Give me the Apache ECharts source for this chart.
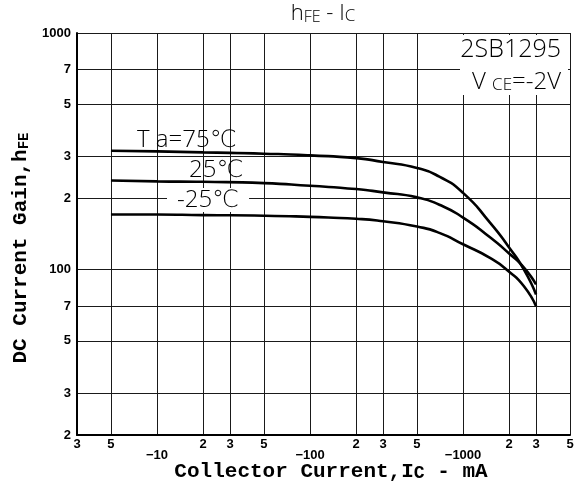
<!DOCTYPE html>
<html><head><meta charset="utf-8">
<script src="https://cdn.jsdelivr.net/npm/echarts@6/dist/echarts.min.js"></script>
<style>html,body{margin:0;padding:0;background:#fff}#c{width:586px;height:494px}</style>
</head><body><div id="c"></div>
<script>
const xTicks = [3,5,10,20,30,50,100,200,300,500,1000,2000,3000,5000];
const xTickLabels = ['3','5','\u221210','2','3','5','\u2212100','2','3','5','\u22121000','2','3','5'];
const xDecadeTicks = [10,100,1000];
const yTicks = [20,30,50,70,100,200,300,500,700,1000];
const yTickLabels = ['2','3','5','7','100','2','3','5','7','1000'];
const current = [5,10,20,50,100,200,300,500,700,1000,1500,2000,2500,3000];
const hfe75 = [318,316,313,309,304,296,285,269,247,211,158,124,100,78.5];
const hfe25 = [238,236,235,232,226,219,212,202,188,166,137,117,102,86.5];
const hfeM25 = [171,171,170,169,167,164,160,152,143,128,112,98,85,70];
const seriesNames = ['Ta=75\u2103','25\u2103','-25\u2103'];

function nearestIdx(ticks, v){
  let best=0, bd=Infinity;
  ticks.forEach((t,i)=>{const d=Math.abs(Math.log(t)-Math.log(v)); if(d<bd){bd=d;best=i;}});
  return best;
}
const mono = "'Liberation Mono', 'DejaVu Sans Mono', monospace";
const thin = "'Open Sans', 'DejaVu Sans', sans-serif";
const chart = echarts.init(document.getElementById('c'), null, {renderer:'canvas'});
const series = [hfe75, hfe25, hfeM25].map((arr, k) => ({
  name: seriesNames[k], type:'line', smooth:0.6, symbol:'none', z:5,
  lineStyle:{color:'#000', width:2.6},
  data: current.map((c,i)=>[c, arr[i]])
}));
chart.setOption({
  animation:false,
  backgroundColor:'#fff',
  grid:{left:77, right:16, top:33, bottom:59},
  xAxis:{
    type:'log', logBase:10, min:3, max:5000,
    axisLine:{show:true, lineStyle:{color:'#000', width:2}},
    axisTick:{show:false, customValues:xTicks},
    splitLine:{show:true, lineStyle:{color:'#1a1a1a', width:1}},
    minorSplitLine:{show:false},
    axisLabel:{
      customValues:xTicks, margin:3, color:'#000',
      fontFamily:"'Liberation Sans', sans-serif", fontWeight:'bold', fontSize:13,
      formatter:(v)=>{
        const i = nearestIdx(xTicks, v);
        const isDec = xDecadeTicks.indexOf(xTicks[i]) >= 0;
        return isDec ? '{d|' + xTickLabels[i] + '}' : '{n|' + xTickLabels[i] + '}';
      },
      rich:{
        n:{fontFamily:"'Liberation Sans', sans-serif", fontWeight:'bold', fontSize:13, color:'#000'},
        d:{fontFamily:"'Liberation Sans', sans-serif", fontWeight:'bold', fontSize:13, color:'#000', padding:[11,0,0,0]}
      }
    }
  },
  yAxis:{
    type:'log', logBase:10, min:20, max:1000,
    axisLine:{show:true, lineStyle:{color:'#000', width:2}},
    axisTick:{show:false, customValues:yTicks},
    splitLine:{show:true, lineStyle:{color:'#1a1a1a', width:1}},
    minorSplitLine:{show:false},
    axisLabel:{
      customValues:yTicks, margin:6, color:'#000',
      fontFamily:"'Liberation Sans', sans-serif", fontWeight:'bold', fontSize:13,
      formatter:(v)=> yTickLabels[nearestIdx(yTicks, v)]
    }
  },
  series: series,
  graphic:[
    {type:'rect', z:10, shape:{x:460, y:35, width:108, height:60}, style:{fill:'#fff'}},
    {type:'text', z:11, x:323, y:14, style:{
      text:'{a|h}{b|FE}{a| - I}{c|C}', textAlign:'center', textVerticalAlign:'middle',
      rich:{
        a:{font:"300 22px " + thin, fill:'#000', verticalAlign:'bottom', lineHeight:22},
        b:{font:"300 16px " + thin, fill:'#000', verticalAlign:'bottom', lineHeight:18},
        c:{font:"300 17px " + thin, fill:'#000', verticalAlign:'bottom', lineHeight:12}
      }}},
    {type:'text', z:11, x:331, y:471, style:{
      text:'{m|Collector Current,I}{s|C}{m| - mA}', textAlign:'center', textVerticalAlign:'middle',
      rich:{
        m:{font:"bold 21px " + mono, fill:'#000', verticalAlign:'bottom', lineHeight:22},
        s:{font:"bold 18px " + mono, fill:'#000', verticalAlign:'bottom', lineHeight:10}
      }}},
    {type:'text', z:11, x:20, y:248, rotation:Math.PI/2, style:{
      text:'{m|DC Current Gain,h}{s|FE}', textAlign:'center', textVerticalAlign:'middle',
      rich:{
        m:{font:"bold 21px " + mono, fill:'#000', verticalAlign:'bottom', lineHeight:22},
        s:{font:"bold 14px " + mono, fill:'#000', verticalAlign:'bottom', lineHeight:10}
      }}},
    {type:'text', z:11, x:137, y:140, style:{
      text:'T a=75\u2103', textAlign:'left', textVerticalAlign:'middle',
      font:"300 24px " + thin, fill:'#000'}},
    {type:'text', z:11, x:189, y:170, style:{
      text:'25\u2103', textAlign:'left', textVerticalAlign:'middle',
      font:"300 24px " + thin, fill:'#000'}},
    {type:'text', z:11, x:167, y:200, style:{
      text:'-25\u2103', textAlign:'left', textVerticalAlign:'middle',
      font:"300 24px " + thin, fill:'#000', backgroundColor:'#fff', padding:[0,10,0,10]}},
    {type:'text', z:11, x:561, y:50, style:{
      text:'2SB1295', textAlign:'right', textVerticalAlign:'middle',
      font:"300 25px " + thin, fill:'#000'}},
    {type:'text', z:11, x:561, y:82, style:{
      text:'{v|V }{s|CE}{v|=-2V}', textAlign:'right', textVerticalAlign:'middle',
      rich:{
        v:{font:"300 24px " + thin, fill:'#000', verticalAlign:'bottom', lineHeight:24},
        s:{font:"300 17px " + thin, fill:'#000', verticalAlign:'bottom', lineHeight:20}
      }}}
  ]
});
</script>
</body></html>
